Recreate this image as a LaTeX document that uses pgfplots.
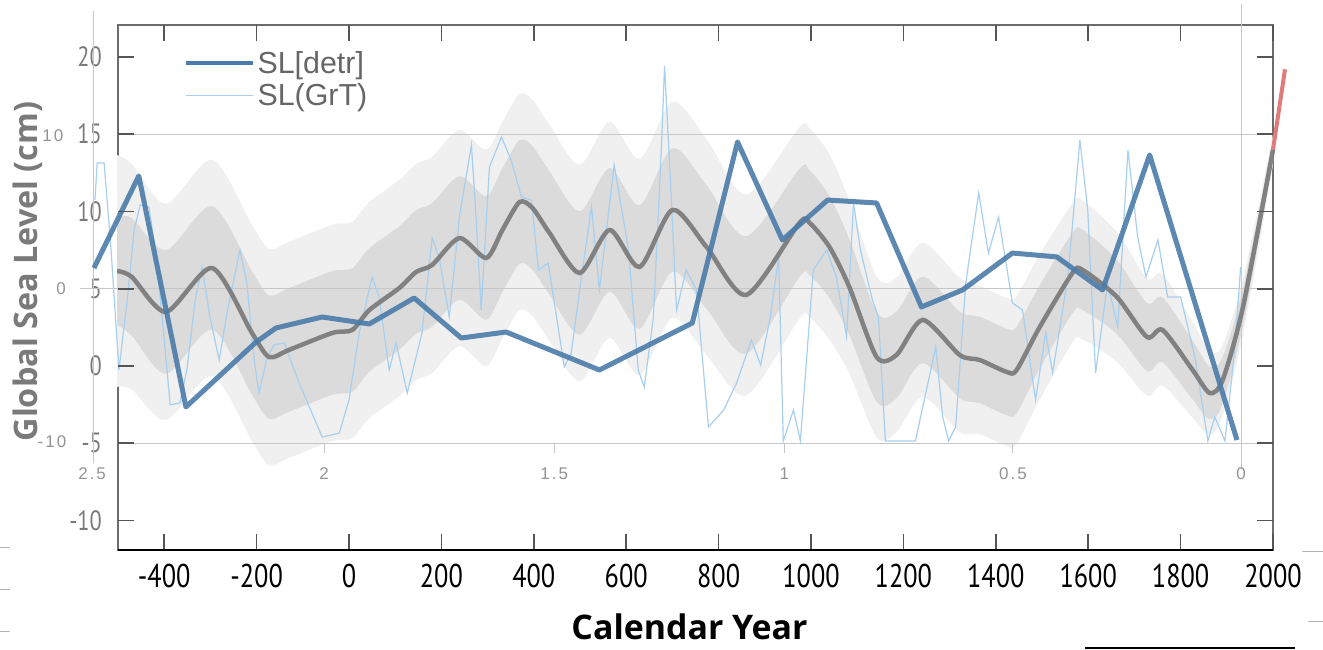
\documentclass[border=0pt]{standalone}
\usepackage{fontspec}
\usepackage{pgfplots}
\usepackage{pgfplotstable}
\pgfplotsset{compat=1.18}
\usepgfplotslibrary{fillbetween}
\newfontfamily\condfont[FakeStretch=0.8]{PT Sans}
\newfontfamily\labfont{Open Sans}
\newfontfamily\arialfont{Liberation Sans}
\newfontfamily\arialsp[LetterSpace=12]{Liberation Sans}
\definecolor{thickblue}{HTML}{4A7BAA}
\definecolor{thinblue}{HTML}{A6CFF0}
\definecolor{medgray}{HTML}{7D7D7D}
\definecolor{darkband}{HTML}{DBDBDB}
\definecolor{lightband}{HTML}{F0F0F0}
\definecolor{gridc}{HTML}{C6C6C6}
\definecolor{labgray}{HTML}{7A7A7A}
\definecolor{redline}{HTML}{E07B7B}
\definecolor{tickc}{HTML}{555555}

\pgfplotstableread{
year med dlo dhi llo lhi
-502 6.15 2.65 9.65 -1.35 13.65
-470 5.76 1.96 9.56 -1.54 13.06
-396 3.50 -0.50 7.50 -3.50 10.50
-296 6.34 2.34 10.34 -0.66 13.34
-210 2.14 -1.86 6.14 -4.86 9.14
-173 0.58 -3.42 4.58 -6.42 7.58
-130 1.04 -2.96 5.04 -5.96 8.04
-36 2.14 -1.86 6.14 -4.86 9.14
7 2.33 -1.67 6.33 -4.67 9.33
44 3.62 -0.38 7.62 -3.38 10.62
109 5.05 1.05 9.05 -1.95 12.05
145 6.08 2.08 10.08 -0.92 13.08
180 6.54 2.54 10.54 -0.46 13.54
239 8.28 4.28 12.28 1.28 15.28
297 6.99 2.99 10.99 -0.01 13.99
332 8.80 4.80 12.80 1.80 15.80
369 10.61 6.61 14.61 3.61 17.61
397 10.23 6.23 14.23 3.23 17.23
434 8.61 4.61 12.61 1.61 15.61
499 6.02 2.02 10.02 -0.98 13.02
564 8.80 4.80 12.80 1.80 15.80
629 6.41 2.41 10.41 -0.59 13.41
700 10.10 6.10 14.10 3.10 17.10
774 7.70 3.70 11.70 0.70 14.70
860 4.60 0.80 8.40 -1.90 11.10
975 9.26 5.76 12.76 3.06 15.46
997 9.26 5.86 12.66 3.16 15.36
1040 7.70 4.40 11.00 1.70 13.70
1083 5.11 2.01 8.21 -0.49 10.71
1142 0.58 -2.32 3.48 -4.62 5.78
1185 0.71 -2.09 3.51 -4.29 5.71
1242 2.98 0.18 5.78 -2.02 7.98
1322 0.71 -2.09 3.51 -4.29 5.71
1365 0.39 -2.41 3.19 -4.41 5.19
1424 -0.39 -3.19 2.41 -5.19 4.41
1445 -0.26 -3.06 2.54 -5.06 4.54
1495 2.52 -0.18 5.22 -2.18 7.22
1566 6.02 3.42 8.62 1.52 10.52
1588 6.21 3.61 8.81 1.71 10.71
1662 4.47 2.07 6.87 0.27 8.67
1727 1.88 -0.32 4.08 -1.92 5.68
1761 2.33 0.23 4.43 -1.27 5.93
1826 -0.26 -2.16 1.64 -3.36 2.84
1863 -1.75 -3.45 -0.05 -4.45 0.95
1891 -0.91 -2.41 0.59 -3.21 1.39
1935 3.82 2.62 5.02 2.02 5.62
2000 14.00 13.40 14.60 13.00 15.00
}\band

\pgfplotstableread{
year val
-552 6.34
-455 12.30
-353 -2.65
-201 1.55
-158 2.46
-58 3.17
44 2.72
141 4.40
243 1.81
340 2.20
542 -0.26
743 2.78
841 14.50
938 8.16
1036 10.74
1142 10.55
1239 3.82
1328 4.92
1436 7.31
1532 7.06
1631 4.92
1733 13.66
1922 -4.79
}\detr

\pgfplotstableread{
year val
-550 10.74
-545 13.14
-530 13.14
-515 7.51
-498 -0.26
-480 4.27
-465 8.80
-452 10.42
-433 10.29
-416 6.86
-398 1.04
-387 -2.52
-366 -2.39
-351 -0.26
-333 4.27
-318 6.41
-301 3.17
-281 0.39
-264 3.43
-236 7.51
-221 5.37
-205 0.39
-195 -1.75
-177 0.58
-162 1.36
-140 1.49
-108 -1.10
-58 -4.60
-21 -4.34
0 -2.20
22 2.14
50 5.76
65 4.47
87 -0.26
102 1.49
126 -1.75
158 2.14
180 8.28
195 7.06
217 3.17
239 9.64
265 14.30
275 9.64
286 3.62
304 12.88
330 14.82
351 13.33
373 10.94
395 10.74
410 6.21
431 6.67
466 -0.06
481 0.84
503 5.76
525 10.29
542 4.92
574 13.01
605 7.51
626 -0.26
639 -1.36
659 3.17
676 13.98
683 19.42
696 11.84
709 3.62
730 6.21
752 4.92
778 -3.95
811 -2.85
839 -1.10
871 1.68
891 0.06
912 3.17
930 7.06
940 -4.85
962 -2.85
977 -4.85
1005 6.21
1034 7.51
1055 5.76
1077 1.88
1092 10.55
1107 7.51
1133 4.27
1146 3.17
1161 -4.85
1226 -4.85
1270 1.23
1285 -3.30
1298 -4.85
1313 -3.95
1335 5.37
1363 11.20
1384 7.31
1406 9.64
1436 4.08
1458 3.62
1486 -2.20
1508 2.14
1523 -0.45
1556 5.76
1582 14.63
1599 10.10
1616 -0.45
1642 5.37
1664 2.52
1686 13.98
1707 8.35
1725 5.76
1751 8.16
1772 4.47
1800 4.47
1831 0.58
1859 -4.85
1874 -3.30
1896 -4.85
1917 1.04
1930 6.41
}\grt

\begin{document}
\begin{tikzpicture}
\begin{axis}[
  at={(118bp,100bp)}, anchor=south west,
  scale only axis, width=1155bp, height=525bp,
  xmin=-500, xmax=2000, ymin=-11.91, ymax=22.07,
  clip=false,
  axis line style={draw=gray!85!black, line width=1.3bp},
  xticklabel pos=lower, yticklabel pos=left,
  xtick={-400,-200,0,200,400,600,800,1000,1200,1400,1600,1800,2000},
  xticklabels={-400,-200,0,200,400,600,800,1000,1200,1400,1600,1800,2000},
  ytick={-10,-5,0,5,10,15,20},
  yticklabels={-10,-5,0,5,10,15,20},
  major tick length=0pt,
  xticklabel style={font=\condfont\fontsize{33}{33}\selectfont, text=black, inner sep=0pt, yshift=-14bp},
  yticklabel style={font=\condfont\fontsize{28}{28}\selectfont, text=labgray, inner sep=0pt, xshift=-16bp},
  xlabel={Calendar Year},
  ylabel={Global Sea Level (cm)},
  every axis x label/.style={at={(rel axis cs:0.5,0)}, xshift=-6bp, yshift=-77bp, anchor=center, font=\labfont\bfseries\fontsize{34}{34}\selectfont, text=black},
  every axis y label/.style={at={(rel axis cs:0,0.5)}, xshift=-90bp, yshift=16bp, rotate=90, anchor=center, font=\labfont\bfseries\fontsize{32.5}{32.5}\selectfont, text=labgray},
  legend style={at={(0.057,0.954)}, anchor=north west, draw=none, fill=none, font=\arialfont\fontsize{30.5}{32}\selectfont, text=black!60, row sep=5bp, inner sep=0pt},
  legend cell align=left,
  legend image code/.code={\draw[#1] (0bp,0bp) -- (67bp,0bp);},
]
\addlegendimage{thickblue, line width=4.5bp}
\addlegendentry{SL[detr]}
\addlegendimage{thinblue, line width=1.2bp}
\addlegendentry{SL(GrT)}

% uncertainty bands
\addplot[name path=lhi, draw=none, smooth, forget plot] table[x=year,y=lhi] {\band};
\addplot[name path=llo, draw=none, smooth, forget plot] table[x=year,y=llo] {\band};
\addplot[lightband, draw=none, forget plot] fill between[of=lhi and llo];
\addplot[name path=dhi, draw=none, smooth, forget plot] table[x=year,y=dhi] {\band};
\addplot[name path=dlo, draw=none, smooth, forget plot] table[x=year,y=dlo] {\band};
\addplot[darkband, draw=none, forget plot] fill between[of=dhi and dlo];

% secondary chart grid
\draw[gridc, line width=1.2bp] (axis cs:-500,15) -- (axis cs:2000,15);
\draw[gridc, line width=1.2bp] (axis cs:-582,5) -- (axis cs:2000,5);
\draw[gridc, line width=1.2bp] (axis cs:-500,-5) -- (axis cs:2000,-5);
\draw[gridc, line width=1bp] (axis cs:-552,23.0) -- (axis cs:-552,-6.3);
\draw[gridc, line width=1bp] (axis cs:1932,23.4) -- (axis cs:1932,-6.7);
\draw[gridc, line width=1bp] (axis cs:-54,-5) -- (axis cs:-54,-5.6);
\draw[gridc, line width=1bp] (axis cs:444,-5) -- (axis cs:444,-5.6);
\draw[gridc, line width=1bp] (axis cs:942,-5) -- (axis cs:942,-5.6);
\draw[gridc, line width=1bp] (axis cs:1437,-5) -- (axis cs:1437,-5.6);
\draw[gridc, line width=1bp] (axis cs:1931,-5) -- (axis cs:1931,-5.6);
\node[font=\arialsp\fontsize{17}{17}\selectfont, text=gray!85] at (axis cs:-641,14.89) {10};
\node[font=\arialsp\fontsize{17}{17}\selectfont, text=gray!85] at (axis cs:-623,4.98) {0};
\node[font=\arialsp\fontsize{17}{17}\selectfont, text=gray!85] at (axis cs:-643,-4.92) {-10};
\node[font=\arialsp\fontsize{17}{17}\selectfont, text=gray!85] at (axis cs:-556,-6.99) {2.5};
\node[font=\arialsp\fontsize{17}{17}\selectfont, text=gray!85] at (axis cs:-54,-6.99) {2};
\node[font=\arialsp\fontsize{17}{17}\selectfont, text=gray!85] at (axis cs:444,-6.99) {1.5};
\node[font=\arialsp\fontsize{17}{17}\selectfont, text=gray!85] at (axis cs:942,-6.99) {1};
\node[font=\arialsp\fontsize{17}{17}\selectfont, text=gray!85] at (axis cs:1437,-6.99) {0.5};
\node[font=\arialsp\fontsize{17}{17}\selectfont, text=gray!85] at (axis cs:1931,-6.99) {0};

% series
\addplot[thinblue, line width=1.2bp, forget plot] table[x=year,y=val] {\grt};
\addplot[medgray, line width=4.5bp, smooth, tension=0.45, opacity=0.95, forget plot] table[x=year,y=med] {\band};
\addplot[thickblue, line width=5bp, opacity=0.9, line join=round, forget plot] table[x=year,y=val] {\detr};
\addplot[redline, line width=4bp, forget plot] coordinates {(2000,14.0) (2026,19.2)};

% tick marks (inside, on all four sides)
\pgfplotsinvokeforeach{-400,-200,0,200,400,600,800,1000,1200,1400,1600,1800,2000}{
  \draw[tickc, line width=1.6bp] (axis cs:#1,-11.91) -- ++(0bp,16bp);
  \draw[tickc, line width=1.6bp] (axis cs:#1,22.07) -- ++(0bp,-16bp);
}
\pgfplotsinvokeforeach{-10,-5,0,5,10,15,20}{
  \draw[tickc, line width=1.6bp] (axis cs:-500,#1) -- ++(16bp,0bp);
  \draw[tickc, line width=1.6bp] (axis cs:2000,#1) -- ++(-16bp,0bp);
}
\draw[black, line width=2.6bp] (rel axis cs:0,0) -- (rel axis cs:1,0);
\end{axis}
% stray marks of the source figure
\draw[black, line width=1.5bp] (1085bp,2bp) -- (1295bp,2bp);
\draw[gray!60, line width=1bp] (0bp,102bp) -- (10bp,102bp);
\draw[gray!60, line width=1bp] (0bp,60bp) -- (10bp,60bp);
\draw[gray!60, line width=1bp] (0bp,18bp) -- (10bp,18bp);
\draw[gray!60, line width=1bp] (1302bp,98bp) -- (1323bp,98bp);
\draw[gray!60, line width=1bp] (1308bp,28bp) -- (1323bp,28bp);
\pgfresetboundingbox
\path[use as bounding box] (0,0) rectangle (1323bp,650bp);
\end{tikzpicture}
\end{document}
